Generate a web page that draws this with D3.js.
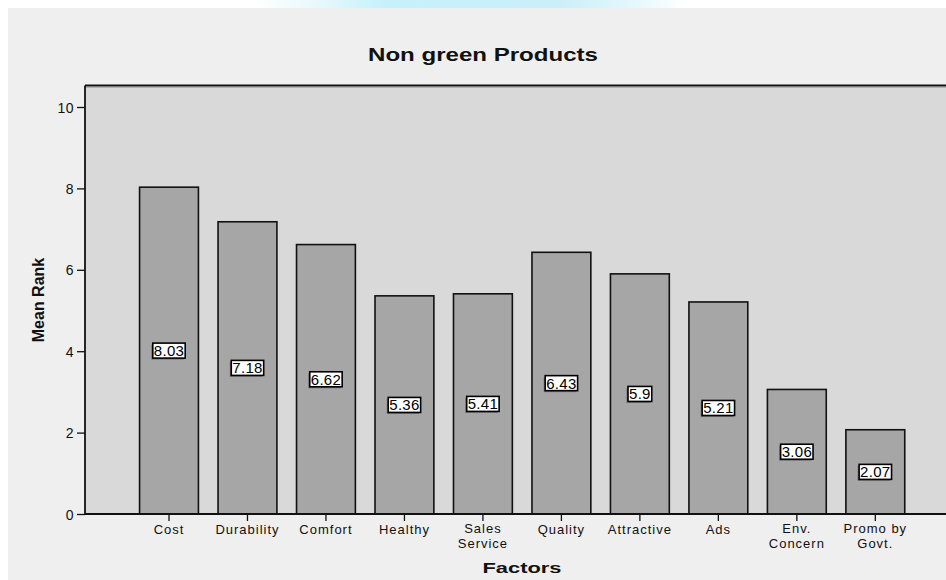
<!DOCTYPE html>
<html>
<head>
<meta charset="utf-8">
<script src="https://cdn.jsdelivr.net/npm/d3@7/dist/d3.min.js"></script>
<style>
  html, body { margin: 0; padding: 0; background: #ffffff; }
  svg { display: block; font-family: "Liberation Sans", Arial, sans-serif; }
</style>
</head>
<body>
<svg id="chart" width="946" height="580"></svg>
<script>
// Mean rank of each purchase factor for non green products
const categories = ["Cost", "Durability", "Comfort", "Healthy", "Sales Service",
                    "Quality", "Attractive", "Ads", "Env. Concern", "Promo by Govt."];
const categoryLines = [["Cost"], ["Durability"], ["Comfort"], ["Healthy"], ["Sales", "Service"],
                       ["Quality"], ["Attractive"], ["Ads"], ["Env.", "Concern"], ["Promo by", "Govt."]];
const meanRank = [8.03, 7.18, 6.62, 5.36, 5.41, 6.43, 5.9, 5.21, 3.06, 2.07];
const yTicks = [0, 2, 4, 6, 8, 10];

const title = "Non green Products";
const xTitle = "Factors";
const yTitle = "Mean Rank";

const svg = d3.select("#chart");
const W = 946, H = 580;

// page background and the grey chart panel
const defs = svg.append("defs");
const glow = defs.append("linearGradient").attr("id", "topGlow")
  .attr("x1", "0%").attr("x2", "100%").attr("y1", "0%").attr("y2", "0%");
[["0%", "#ffffff"], ["15%", "#e6f8fc"], ["30%", "#c6f1fb"], ["70%", "#c9eff9"], ["88%", "#e4f7fc"], ["100%", "#ffffff"]]
  .forEach(([o, c]) => glow.append("stop").attr("offset", o).attr("stop-color", c));

svg.append("rect").attr("width", W).attr("height", H).attr("fill", "#ffffff");
svg.append("rect").attr("x", 255).attr("y", 0).attr("width", 430).attr("height", 8).attr("fill", "url(#topGlow)");
svg.append("rect").attr("x", 8).attr("y", 8).attr("width", W - 8).attr("height", H - 8).attr("fill", "#efefef");

// plot frame
const frame = { left: 85, top: 85.5, right: 962, bottom: 514 };

const y = d3.scaleLinear().domain([0, 10]).range([frame.bottom, 107]);
const x = d3.scaleBand().domain(categories)
  .range([129.76, 914.56]).paddingInner(0.25).paddingOuter(0.125);

svg.append("rect")
  .attr("x", frame.left).attr("y", frame.top)
  .attr("width", frame.right - frame.left).attr("height", frame.bottom - frame.top)
  .attr("fill", "#d9d9d9");

// bars
svg.append("g").selectAll("rect").data(meanRank).join("rect")
  .attr("x", (d, i) => x(categories[i]))
  .attr("y", d => y(d))
  .attr("width", x.bandwidth())
  .attr("height", d => y(0) - y(d))
  .attr("fill", "#a6a6a6")
  .attr("stroke", "#111111")
  .attr("stroke-width", 1.6);

// frame lines (top and left) drawn over the fill
svg.append("line").attr("x1", frame.left).attr("x2", frame.right)
  .attr("y1", frame.top).attr("y2", frame.top)
  .attr("stroke", "#111111").attr("stroke-width", 1.8);
svg.append("line").attr("x1", frame.left).attr("x2", frame.right)
  .attr("y1", frame.top + 1.8).attr("y2", frame.top + 1.8)
  .attr("stroke", "#9a9a9a").attr("stroke-width", 0.8);

// y axis
const yAxis = d3.axisLeft(y).tickValues(yTicks).tickFormat(d3.format("d")).tickSize(8).tickPadding(3);
const gy = svg.append("g").attr("transform", `translate(${frame.left},0)`).call(yAxis);
gy.select(".domain").remove();
gy.append("line").attr("x1", 0).attr("x2", 0).attr("y1", frame.top).attr("y2", frame.bottom)
  .attr("stroke", "#111111").attr("stroke-width", 1.8);
gy.selectAll(".tick line").attr("stroke", "#111111").attr("stroke-width", 1.3);
gy.selectAll(".tick text")
  .attr("font-family", "Liberation Sans, Arial, sans-serif")
  .attr("font-size", 14).attr("letter-spacing", 0.5).attr("fill", "#111111").attr("dy", "0.36em");

// x axis
const xAxis = d3.axisBottom(x).tickSize(7).tickFormat("");
const gx = svg.append("g").attr("transform", `translate(0,${frame.bottom})`).call(xAxis);
gx.select(".domain").remove();
gx.append("line").attr("x1", frame.left).attr("x2", frame.right).attr("y1", 0).attr("y2", 0)
  .attr("stroke", "#111111").attr("stroke-width", 1.8);
gx.selectAll(".tick line").attr("stroke", "#111111").attr("stroke-width", 1.3);

// category labels, one or two lines each
const labels = svg.append("g");
categories.forEach((c, i) => {
  const cx = x(c) + x.bandwidth() / 2;
  const lines = categoryLines[i];
  lines.forEach((line, j) => {
    const base = lines.length > 1 ? frame.bottom + 19 + j * 15 : frame.bottom + 20;
    labels.append("text")
      .attr("x", cx)
      .attr("y", base)
      .attr("text-anchor", "middle")
      .attr("font-size", 13)
      .attr("letter-spacing", 1)
      .attr("fill", "#111111")
      .text(line);
  });
});

// value labels in boxes at half bar height
const vg = svg.append("g");
meanRank.forEach((v, i) => {
  const cx = x(categories[i]) + x.bandwidth() / 2;
  const cy = y(v / 2);
  const g = vg.append("g");
  const shadow = g.append("rect").attr("fill", "#555555").attr("opacity", 0.6);
  const box = g.append("rect").attr("fill", "#ffffff").attr("stroke", "#000000").attr("stroke-width", 1.6);
  const t = g.append("text")
    .attr("x", cx).attr("y", cy + 5.5)
    .attr("text-anchor", "middle")
    .attr("font-size", 15)
    .attr("letter-spacing", 0.3)
    .attr("fill", "#000000")
    .text(String(v));
  const w = t.node().getComputedTextLength() + 2;
  const h = 15;
  box.attr("x", cx - w / 2).attr("y", cy - h / 2).attr("width", w).attr("height", h);
  shadow.attr("x", cx - w / 2 - 1.5).attr("y", cy - h / 2 + 1.5).attr("width", w).attr("height", h);
});

// titles, drawn with horizontally widened glyphs
function widened(txt, cx, baseline, size, targetWidth) {
  const t = svg.append("text")
    .attr("text-anchor", "middle")
    .attr("font-size", size).attr("font-weight", "bold")
    .attr("fill", "#111111")
    .text(txt);
  const sx = targetWidth / t.node().getComputedTextLength();
  t.attr("transform", `translate(${cx},${baseline}) scale(${sx},1)`);
  return t;
}
widened(title, 483, 61, 19, 230);
widened(xTitle, 522, 573, 15, 79);

svg.append("text")
  .attr("transform", "translate(44,300) rotate(-90)")
  .attr("text-anchor", "middle")
  .attr("font-size", 16).attr("font-weight", "bold")
  .attr("fill", "#111111")
  .text(yTitle);
</script>
</body>
</html>
